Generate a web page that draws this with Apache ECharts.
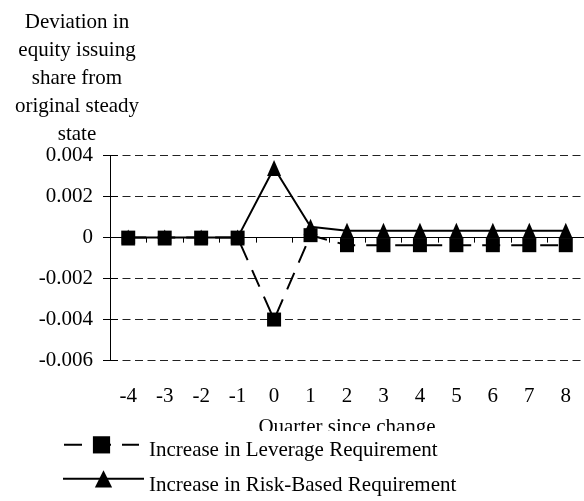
<!DOCTYPE html>
<html>
<head>
<meta charset="utf-8">
<script src="https://cdn.jsdelivr.net/npm/echarts@6/dist/echarts.min.js"></script>
<style>
  html, body { margin: 0; padding: 0; background: #fff; }
  #chart { width: 584px; height: 501px; }
</style>
</head>
<body>
<div id="chart"></div>
<script>
// Quarters relative to the regulatory change
const quarters = ['-4', '-3', '-2', '-1', '0', '1', '2', '3', '4', '5', '6', '7', '8'];

// Deviation in equity issuing share from the original steady state
const leverageDeviation = [0, 0, 0, 0, -0.004, 0.00012, -0.00037, -0.00037, -0.00037, -0.00037, -0.00037, -0.00037, -0.00037];
const riskBasedDeviation = [0, 0, 0, 0, 0.0034, 0.00053, 0.00033, 0.00033, 0.00033, 0.00033, 0.00033, 0.00033, 0.00033];

// Value-axis ticks
const yTicks = { min: -0.006, max: 0.004, step: 0.002 };

const seriesNames = ['Increase in Leverage Requirement', 'Increase in Risk-Based Requirement'];
const yTitle = 'Deviation in\nequity issuing\nshare from\noriginal steady\nstate';
const xTitle = 'Quarter since change';

const FONT = '"Liberation Serif", "Times New Roman", serif';
const FS = 21;

const chart = echarts.init(document.getElementById('chart'), null, { renderer: 'canvas' });

function fmtTick(v) {
  if (Math.abs(v) < 1e-12) return '0';
  return v.toFixed(3);
}

function legendText(padTop, padLeft) {
  return {
    fontFamily: FONT, fontSize: FS, color: '#000',
    rich: { t: { fontFamily: FONT, fontSize: FS, color: '#000', padding: [padTop, 0, 0, padLeft] } }
  };
}

const gridBox = { left: 110, top: 155.7, width: 478.6, height: 204.8 };

chart.setOption({
  animation: false,
  backgroundColor: '#fff',
  textStyle: { fontFamily: FONT, color: '#000' },
  title: {
    text: yTitle,
    left: 77,
    top: 8,
    padding: 0,
    textAlign: 'center',
    textStyle: { fontFamily: FONT, fontSize: FS, fontWeight: 'normal', color: '#000', lineHeight: 28 }
  },
  grid: gridBox,
  xAxis: {
    type: 'category',
    data: quarters,
    boundaryGap: true,
    name: xTitle,
    nameLocation: 'middle',
    nameGap: 56,
    nameTextStyle: { fontFamily: FONT, fontSize: FS, color: '#000' },
    axisLine: { lineStyle: { color: '#000', width: 1 } },
    axisTick: { show: true, inside: false, length: 5, alignWithLabel: false, lineStyle: { color: '#000' } },
    axisLabel: { fontFamily: FONT, fontSize: FS, color: '#000', margin: 25, interval: 0 },
    splitLine: { show: false }
  },
  yAxis: [
    {
      type: 'value',
      min: yTicks.min,
      max: yTicks.max,
      interval: yTicks.step,
      axisLine: { show: true, lineStyle: { color: '#000', width: 1 } },
      axisTick: { show: true, inside: false, length: 7, lineStyle: { color: '#000' } },
      axisLabel: { fontFamily: FONT, fontSize: FS, color: '#000', margin: 17, formatter: fmtTick },
      splitLine: { show: true, lineStyle: { color: '#222', width: 1, type: [8, 4.5] } }
    },
    {
      // inner half of the crossing tick marks
      type: 'value',
      position: 'left',
      min: yTicks.min,
      max: yTicks.max,
      interval: yTicks.step,
      axisLine: { show: false },
      axisTick: { show: true, inside: true, length: 8, lineStyle: { color: '#000' } },
      axisLabel: { show: false },
      splitLine: { show: false }
    }
  ],
  legend: [
    {
      data: [seriesNames[0]],
      left: 63,
      top: 431,
      padding: [5.25, 20, 4, 0],
      backgroundColor: '#fff',
      itemWidth: 75,
      itemHeight: 21.5,
      itemGap: 0,
      selectedMode: false,
      formatter: '{t|{name}}',
      textStyle: legendText(12, 5)
    },
    {
      data: [seriesNames[1]],
      left: 62,
      top: 470.25,
      padding: 0,
      itemWidth: 81,
      itemHeight: 21.5,
      itemGap: 0,
      selectedMode: false,
      formatter: '{t|{name}}',
      textStyle: legendText(14, 0)
    }
  ],
  series: [
    {
      name: seriesNames[0],
      type: 'line',
      data: leverageDeviation,
      symbol: 'rect',
      symbolSize: 14,
      showAllSymbol: true,
      itemStyle: { color: '#000' },
      lineStyle: { color: '#000', width: 2, type: [18, 11] },
      z: 2
    },
    {
      name: seriesNames[1],
      type: 'line',
      data: riskBasedDeviation,
      symbol: 'triangle',
      symbolSize: [14, 16],
      showAllSymbol: true,
      itemStyle: { color: '#000' },
      lineStyle: { color: '#000', width: 2 },
      z: 3
    }
  ]
});
</script>
</body>
</html>
